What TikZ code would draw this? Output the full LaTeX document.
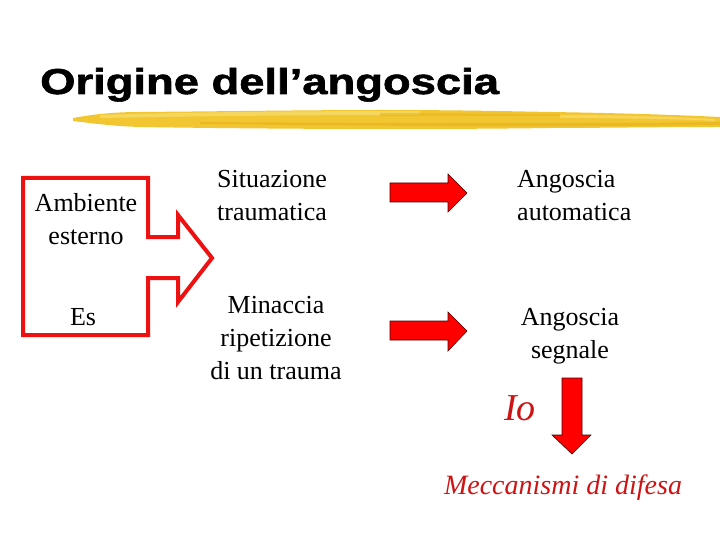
\documentclass[tikz,border=0pt]{standalone}
\usepackage{fontspec}
\setmainfont{Liberation Serif}
\newfontfamily\titlefont[BoldFeatures={FakeBold=1.5}]{Liberation Sans}
\definecolor{arrowred}{HTML}{FF0000}
\definecolor{boxred}{HTML}{EE1111}
\definecolor{iored}{HTML}{CC1414}
\definecolor{gold1}{HTML}{F2C630}
\definecolor{gold2}{HTML}{F8DC6A}
\definecolor{gold3}{HTML}{E8B41C}
\begin{document}
\begin{tikzpicture}[x=1pt,y=-1pt,
  txt/.style={inner sep=0pt,font=\fontsize{26}{33}\selectfont},
  fatarrow/.style={fill=arrowred,draw=black!70!red,line width=0.6pt,line join=miter}]
\useasboundingbox (0,0) rectangle (720,540);
\fill[white] (0,0) rectangle (720,540);
% title
\node[inner sep=0pt,anchor=base west] (title) at (40,94)
  {\scalebox{1.26}[1]{\titlefont\bfseries\fontsize{36}{40}\selectfont Origine dell’angoscia}};
% brush stroke
\fill[gold1] (73,118) .. controls (95,114) and (115,112) .. (140,112)
  .. controls (250,111) and (320,110) .. (380,110)
  .. controls (450,110) and (500,111) .. (550,112)
  .. controls (620,113) and (680,115) .. (720,117) -- (720,127)
  .. controls (650,127) and (600,128) .. (550,128)
  .. controls (480,129) and (420,129) .. (380,129)
  .. controls (300,129) and (200,128) .. (140,127)
  .. controls (110,126) and (90,123) .. (73,121) -- cycle;
\fill[gold2,opacity=0.8] (100,115) .. controls (200,112) and (300,111) .. (420,111)
  -- (420,115) .. controls (300,115) and (200,116) .. (100,118) -- cycle;
\fill[gold3,opacity=0.7] (200,122) .. controls (350,123) and (550,124) .. (720,122)
  -- (720,125) .. controls (550,127) and (350,126) .. (200,124) -- cycle;
\fill[gold2,opacity=0.7] (560,115) .. controls (620,115) and (680,117) .. (715,119)
  -- (715,121) .. controls (680,119) and (620,118) .. (560,118) -- cycle;
\fill[gold3,opacity=0.6] (380,113) -- (560,114) -- (560,116) -- (380,116) -- cycle;
% left box with arrow
\draw[boxred,line width=4pt,line join=miter]
  (23,178) -- (148,178) -- (148,237) -- (178,237) -- (178,215) -- (212,258)
  -- (178,302) -- (178,278) -- (148,278) -- (148,335) -- (23,335) -- cycle;
\node[txt,anchor=base,align=center] (amb) at (86,244) {Ambiente\\esterno};
\node[txt,anchor=base] (es) at (83,325) {Es};
% middle texts
\node[txt,anchor=base west,align=left] (sit) at (217,221) {Situazione\\traumatica};
\node[txt,anchor=base,align=center] (min) at (276,379) {Minaccia\\ripetizione\\di un trauma};
% right texts
\node[txt,anchor=base west,align=left] (aut) at (517,221) {Angoscia\\automatica};
\node[txt,anchor=base,align=center] (seg) at (570,358) {Angoscia\\segnale};
% arrows
\filldraw[fatarrow] (390,183) -- (448,183) -- (448,174) -- (467,193) -- (448,212)
  -- (448,202) -- (390,202) -- cycle;
\filldraw[fatarrow] (390,321) -- (448,321) -- (448,312) -- (467,331) -- (448,351)
  -- (448,340) -- (390,340) -- cycle;
\filldraw[fatarrow] (562,378) -- (582,378) -- (582,435) -- (591,435) -- (572,454)
  -- (552,435) -- (562,435) -- cycle;
% Io and defence mechanisms
\node[inner sep=0pt,anchor=base west,text=iored,font=\itshape\fontsize{38}{40}\selectfont] (io) at (504,420) {Io};
\node[txt,anchor=base,text=iored,font=\itshape\fontsize{28}{32}\selectfont] (mec) at (563,494) {Meccanismi di difesa};
\end{tikzpicture}
\end{document}
